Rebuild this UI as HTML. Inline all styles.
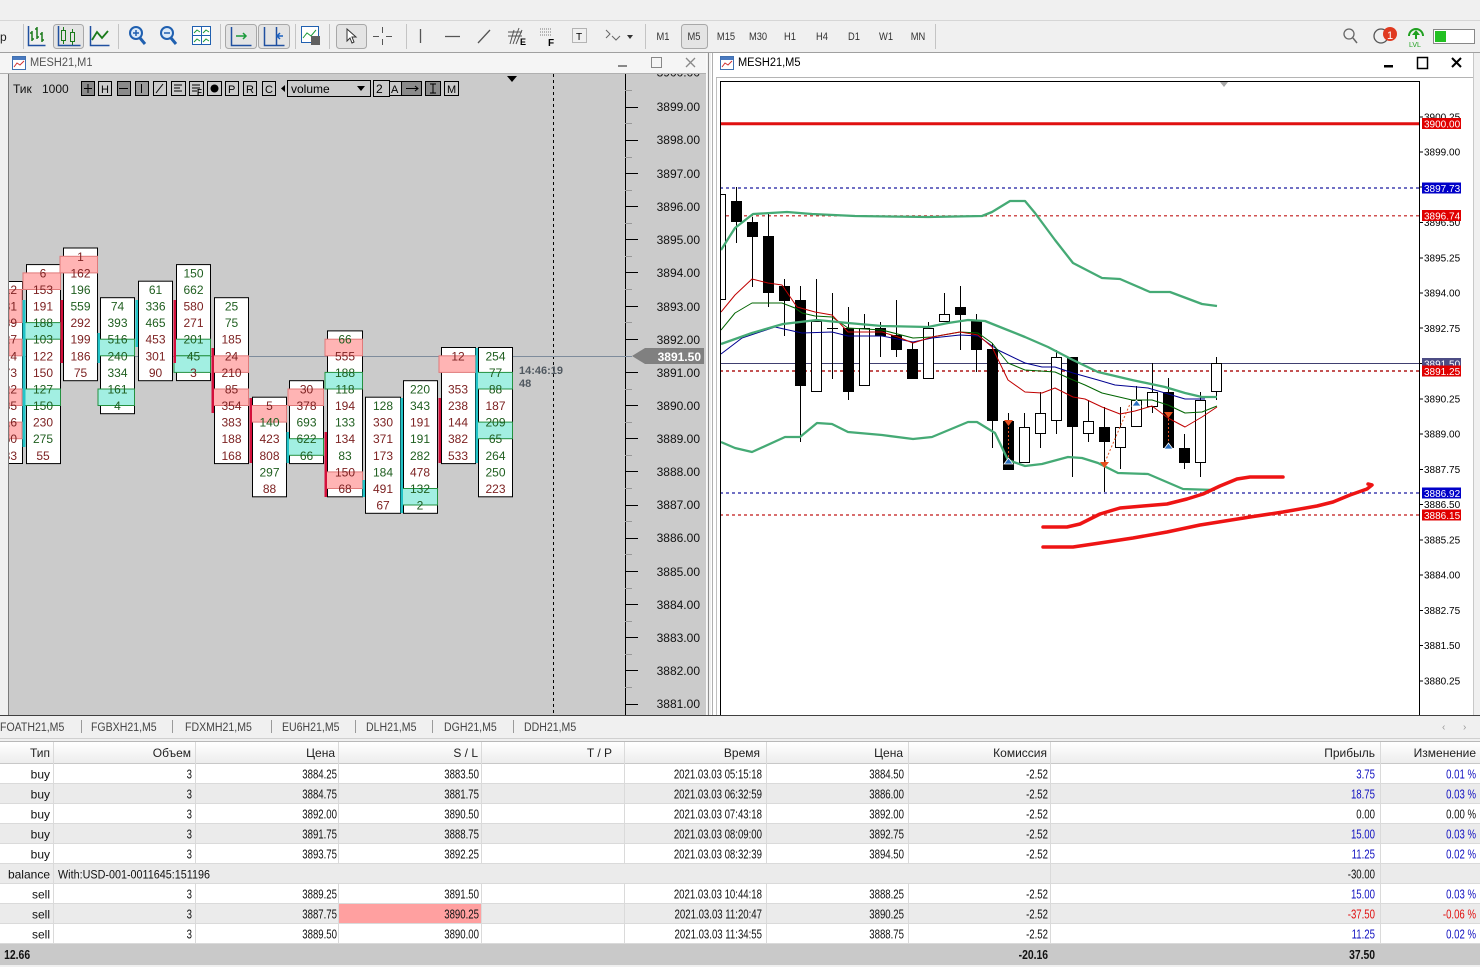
<!DOCTYPE html>
<html><head><meta charset="utf-8">
<style>
html,body{margin:0;padding:0;width:1480px;height:967px;overflow:hidden;background:#f0f0f0}
svg{display:block}
text{font-family:"Liberation Sans","DejaVu Sans","Noto Sans CJK SC",sans-serif;}
.n{transform-box:fill-box;transform:scaleX(.74);transform-origin:100% 50%;font-size:13px;text-anchor:end;fill:#111}
.w{font-size:12px;text-anchor:end;fill:#111}
.hd{font-size:12px;text-anchor:end;fill:#222}
.nb{transform-box:fill-box;transform:scaleX(.8);transform-origin:100% 50%;font-size:13px;text-anchor:end;fill:#111;font-weight:bold}
.tb{transform-box:fill-box;transform:scaleX(.88);transform-origin:0 50%;font-size:12px;fill:#444}
.tf{transform-box:fill-box;transform:scaleX(.85);transform-origin:50% 50%;font-size:11px;text-anchor:middle;fill:#333}
.fp{font-size:12px;text-anchor:middle}
.g{fill:#1f5e1f}.r{fill:#7d2222}
.ax{font-size:12px;text-anchor:end;fill:#111}
.rx{font-size:10px;fill:#000}
.lb{font-size:10px;fill:#fff}
.bx{fill:#fff;stroke:#000}
.pk{fill:#ffb4b4;stroke:#e07a7a}
.tl{fill:#a2efe2;stroke:#249040}
.rb{fill:#d4103c}.tq{fill:#22c4c8}
.bl{fill:#0000c8}.rd{fill:#e00000}
</style></head><body>
<svg width="1480" height="967" viewBox="0 0 1480 967" xmlns="http://www.w3.org/2000/svg">
<defs>
<clipPath id="lc"><rect x="9" y="74" width="616" height="641"/></clipPath>
<clipPath id="rc"><rect x="721" y="82" width="698" height="633"/></clipPath>
<clipPath id="lax"><rect x="626" y="74" width="80" height="641"/></clipPath>
<linearGradient id="hg" x1="0" y1="0" x2="0" y2="1"><stop offset="0" stop-color="#ffffff"/><stop offset="1" stop-color="#ececec"/></linearGradient>
</defs>
<rect width="1480" height="967" fill="#f0f0f0"/>
<line x1="0" y1="20.5" x2="1480" y2="20.5" stroke="#d6d6d6"/>
<line x1="0" y1="52.5" x2="1480" y2="52.5" stroke="#a0a0a0"/>

<!-- TOOLBAR -->
<text x="0" y="41" font-size="12" fill="#222">p</text>
<g stroke="#c4c4c4"><line x1="23.5" y1="24" x2="23.5" y2="49"/><line x1="118.5" y1="24" x2="118.5" y2="49"/><line x1="220.5" y1="24" x2="220.5" y2="49"/><line x1="295.5" y1="24" x2="295.5" y2="49"/><line x1="329.5" y1="24" x2="329.5" y2="49"/><line x1="406.5" y1="24" x2="406.5" y2="49"/><line x1="645.5" y1="24" x2="645.5" y2="49"/><line x1="935.5" y1="24" x2="935.5" y2="49"/></g>
<path d="M32 31v10M30 33h2M32 39h2M37 27v12M35 29h2M37 37h2M42 32v10M40 34h2M42 40h2" stroke="#1a7a1a" stroke-width="1.5" fill="none"/>
<path d="M28.5 26v19.5h17" stroke="#2050a0" fill="none" stroke-width="1.5"/>
<rect x="53.5" y="24.5" width="30" height="24" rx="3" fill="#e4e4e4" stroke="#a8a8a8"/>
<g stroke="#1a7a1a" fill="none"><rect x="61.5" y="30.5" width="4" height="10"/><path d="M63.5 27v3M63.5 41v3"/><rect x="70.5" y="32.5" width="4" height="9"/><path d="M72.5 29v3M72.5 42v3"/></g>
<path d="M58.5 26v19.5h22" stroke="#2050a0" fill="none" stroke-width="1.5"/>
<polyline points="92,40 97,32 102,38 108,31" stroke="#1a7a1a" stroke-width="1.8" fill="none"/>
<path d="M90.5 26v19.5h19" stroke="#2050a0" fill="none" stroke-width="1.5"/>
<circle cx="136" cy="33" r="6" fill="#dceaf8" stroke="#2060b0" stroke-width="2"/><path d="M140 38l5 6" stroke="#2060b0" stroke-width="3"/><path d="M133 33h6M136 30v6" stroke="#2060b0" stroke-width="1.5"/>
<circle cx="167" cy="33" r="6" fill="#dceaf8" stroke="#2060b0" stroke-width="2"/><path d="M171 38l5 6" stroke="#2060b0" stroke-width="3"/><path d="M164 33h6" stroke="#2060b0" stroke-width="1.5"/>
<rect x="192.5" y="26.5" width="18" height="18" fill="#fff" stroke="#2060b0"/><path d="M192.5 35.5h18M201.5 26.5v18" stroke="#2060b0"/><path d="M194 33l3-3 3 2M203 33l3-3 3 2M194 42l3-3 3 2M203 42l3-3 3 2" stroke="#1a9a3a" fill="none"/>
<rect x="225.5" y="24.5" width="31" height="24" rx="3" fill="#e4e4e4" stroke="#a8a8a8"/>
<path d="M231.5 27v18.5h20" stroke="#2050a0" fill="none" stroke-width="1.5"/><path d="M236 36h10M243 33l3 3-3 3" stroke="#1a9a3a" fill="none" stroke-width="1.5"/>
<rect x="258.5" y="24.5" width="31" height="24" rx="3" fill="#e4e4e4" stroke="#a8a8a8"/>
<path d="M264.5 27v18.5h20M276.5 27v18" stroke="#2050a0" fill="none" stroke-width="1.5"/><path d="M283 36h-6M280 33l-3 3 3 3" stroke="#1a60c0" fill="none" stroke-width="1.5"/>
<rect x="301.5" y="26.5" width="17" height="16" fill="#fff" stroke="#2060b0"/><path d="M303 38l4-5 4 3 5-6" stroke="#1a9a3a" fill="none"/><rect x="311" y="36" width="9" height="9" fill="#606060"/>
<rect x="336.5" y="24.5" width="30" height="24" rx="3" fill="#e4e4e4" stroke="#a8a8a8"/>
<path d="M347 29v12l3-3 2 5 2-1-2-5h4z" fill="#fff" stroke="#333"/>
<path d="M382.5 27v6M382.5 39v6M373 36.5h6M386 36.5h6" stroke="#555"/>
<path d="M420.5 29v14M445 36.5h15M478 43l12-13" stroke="#555" stroke-width="1.3"/>
<path d="M510 44l4-14M513 44l6-16M516 44l6-14M508 36h14M508 32h14" stroke="#555" fill="none"/><text x="520" y="45" font-size="9" font-weight="bold">E</text>
<path d="M540 29h12M540 32h12M540 35h12" stroke="#777" stroke-dasharray="1 1"/><text x="548" y="46" font-size="10" font-weight="bold">F</text>
<rect x="572.5" y="28.5" width="14" height="14" fill="none" stroke="#777" stroke-dasharray="1 1"/><text x="576" y="40" font-size="10">T</text>
<path d="M606 30l4 4-4 4M612 36l4 4 4-4" stroke="#666" fill="none"/><path d="M627 35h6l-3 4z" fill="#333"/>
<text class="tf" x="663" y="40">M1</text>
<rect x="681.5" y="24.5" width="26" height="24" rx="3" fill="#e4e4e4" stroke="#a8a8a8"/>
<text class="tf" x="694" y="40">M5</text><text class="tf" x="726" y="40">M15</text><text class="tf" x="758" y="40">M30</text><text class="tf" x="790" y="40">H1</text><text class="tf" x="822" y="40">H4</text><text class="tf" x="854" y="40">D1</text><text class="tf" x="886" y="40">W1</text><text class="tf" x="918" y="40">MN</text>
<circle cx="1349" cy="34" r="5" fill="none" stroke="#666" stroke-width="1.3"/><path d="M1353 38l4 5" stroke="#666" stroke-width="1.5"/>
<circle cx="1381" cy="36" r="7" fill="none" stroke="#555" stroke-width="1.3"/><circle cx="1390" cy="34" r="7" fill="#e03a20"/><text x="1387" y="39" font-size="11" fill="#fff">1</text>
<path d="M1409 36a7 7 0 0 1 14 0" stroke="#20a020" fill="none" stroke-width="2"/><path d="M1416 30l-4 5h3v4h2v-4h3z" fill="#20a020"/><text x="1409" y="47" font-size="7" fill="#20a020">LVL</text>
<rect x="1433.5" y="29.5" width="41" height="14" fill="#fff" stroke="#888"/><rect x="1435" y="31" width="11" height="11" fill="#22c022"/>

<!-- LEFT WINDOW -->
<rect x="0" y="53" width="706" height="20" fill="#f5f5f5"/>
<line x1="0" y1="73.5" x2="706" y2="73.5" stroke="#b0b0b0"/>
<rect x="12.5" y="56.5" width="13" height="13" fill="#fff" stroke="#4070b0"/><rect x="13" y="57" width="12" height="3" fill="#4a7ac0"/><path d="M14 67l3-4 3 2 4-4" stroke="#d03030" fill="none"/>
<text x="30" y="66" font-size="12" fill="#555" style="transform-box:fill-box;transform:scaleX(.92);transform-origin:0 50%">MESH21,M1</text>
<rect x="618" y="65" width="9" height="2" fill="#888"/>
<rect x="651.5" y="57.5" width="10" height="10" fill="none" stroke="#888"/>
<path d="M686 58l9 9M695 58l-9 9" stroke="#888" stroke-width="1.3"/>
<rect x="9" y="74" width="697" height="641" fill="#cbcbcb"/>
<line x1="8.5" y1="74" x2="8.5" y2="715" stroke="#7a7a7a"/>
<line x1="706.5" y1="53" x2="706.5" y2="715" stroke="#fafafa"/>
<line x1="708.5" y1="53" x2="708.5" y2="715" stroke="#909090"/>

<!-- footprint toolbar -->
<text x="13" y="93" font-size="12" fill="#111">Тик</text><text x="42" y="93" font-size="12" fill="#111">1000</text>
<g stroke="#000" fill="none">
<rect x="81.5" y="81.5" width="13" height="14" fill="#8a8a8a"/><rect x="98.5" y="81.5" width="13" height="14"/><rect x="117.5" y="81.5" width="13" height="14" fill="#8a8a8a"/><rect x="135.5" y="81.5" width="13" height="14" fill="#9a9a9a"/><rect x="153.5" y="81.5" width="13" height="14"/><rect x="171.5" y="81.5" width="14" height="14"/><rect x="189.5" y="81.5" width="14" height="14"/><rect x="207.5" y="81.5" width="14" height="14"/><rect x="225.5" y="81.5" width="13" height="14"/><rect x="243.5" y="81.5" width="13" height="14"/><rect x="262.5" y="81.5" width="13" height="14"/>
<rect x="287.5" y="80.5" width="83" height="16"/><rect x="373.5" y="80.5" width="16" height="16"/><rect x="389.5" y="81.5" width="12" height="14"/><rect x="401.5" y="81.5" width="20" height="14" fill="#8a8a8a"/><rect x="425.5" y="81.5" width="15" height="14" fill="#8a8a8a"/><rect x="444.5" y="81.5" width="14" height="14"/>
<path d="M88 84v9M84 88.5h8M119 88.5h9M141.5 84v9M156 93l7-9M174 85h8M174 88h6M174 91h8M192 85h8M192 88h8M192 91h5M406 88.5h12M415 86l3 2.5-3 2.5M430 84h6M433 84v9M430 93h6"/>
</g>
<text x="101" y="93" font-size="11">H</text><circle cx="214.5" cy="88.5" r="4" fill="#000"/>
<text x="228" y="93" font-size="11">P</text><text x="246" y="93" font-size="11">R</text><text x="265" y="93" font-size="11">C</text><text x="447" y="93" font-size="11">M</text>
<text x="197" y="95" font-size="8" font-weight="bold">F</text>
<path d="M285 85v7l-4-3.5z" fill="#000"/>
<text x="291" y="93" font-size="12" fill="#000">volume</text><path d="M357 86h8l-4 5z" fill="#000"/>
<text x="376" y="93" font-size="12">2</text><text x="391" y="93" font-size="11">A</text>

<!-- left axis & lines -->
<line x1="553.5" y1="74" x2="553.5" y2="715" stroke="#000" stroke-dasharray="3 3"/>
<path d="M507 76h10l-5 6z" fill="#000"/>
<line x1="625.5" y1="74" x2="625.5" y2="715" stroke="#000"/>
<g stroke="#000"><path d="M625 107.5h13M625 140.5h13M625 173.5h13M625 206.5h13M625 239.5h13M625 272.5h13M625 306.5h13M625 339.5h13M625 372.5h13M625 405.5h13M625 438.5h13M625 471.5h13M625 505.5h13M625 538.5h13M625 571.5h13M625 604.5h13M625 637.5h13M625 670.5h13M625 704.5h13"/></g>
<g stroke="#999"><path d="M625 90.5h7M625 123.5h7M625 157.5h7M625 190.5h7M625 223.5h7M625 256.5h7M625 289.5h7M625 322.5h7M625 389.5h7M625 422.5h7M625 455.5h7M625 488.5h7M625 521.5h7M625 554.5h7M625 588.5h7M625 621.5h7M625 654.5h7M625 687.5h7"/></g>
<g class="ax" clip-path="url(#lax)">
<text x="700" y="76.5">3900.00</text><text x="700" y="111">3899.00</text><text x="700" y="144">3898.00</text><text x="700" y="178">3897.00</text><text x="700" y="211">3896.00</text><text x="700" y="244">3895.00</text><text x="700" y="277">3894.00</text><text x="700" y="311">3893.00</text><text x="700" y="344">3892.00</text><text x="700" y="377">3891.00</text><text x="700" y="410">3890.00</text><text x="700" y="443">3889.00</text><text x="700" y="476">3888.00</text><text x="700" y="509">3887.00</text><text x="700" y="542">3886.00</text><text x="700" y="576">3885.00</text><text x="700" y="609">3884.00</text><text x="700" y="642">3883.00</text><text x="700" y="675">3882.00</text><text x="700" y="708">3881.00</text>
</g>
<line x1="9" y1="356.5" x2="632" y2="356.5" stroke="#7e8c9c"/>
<path d="M632 356l13-8h59v16h-59z" fill="#808080"/>
<text x="701" y="361" font-size="12" font-weight="bold" fill="#fff" text-anchor="end">3891.50</text>
<text x="519" y="374" font-size="11" font-weight="bold" fill="#505860">14:46:19</text>
<text x="519" y="387" font-size="11" font-weight="bold" fill="#505860">48</text>

<!-- FOOTPRINT -->
<g clip-path="url(#lc)">
<rect class="bx" x="0.5" y="281.5" width="22" height="182"/>
<rect class="pk" x="9" y="289.5" width="13" height="33"/><rect class="pk" x="9" y="339.2" width="13" height="16.6"/><rect class="pk" x="9" y="389" width="13" height="16.5"/><rect class="pk" x="9" y="422.1" width="13" height="16.6"/>
<g class="fp" style="text-anchor:end"><text class="r" x="17" y="294">12</text><text class="r" x="17" y="310.5">31</text><text class="r" x="17" y="327.1">89</text><text class="r" x="17" y="343.7">27</text><text class="r" x="17" y="360.3">14</text><text class="r" x="17" y="376.9">73</text><text class="r" x="17" y="393.5">22</text><text class="r" x="17" y="410">35</text><text class="r" x="17" y="426.6">16</text><text class="r" x="17" y="443.2">50</text><text class="r" x="17" y="459.8">83</text></g>
</g>
<!-- B -->
<rect class="bx" x="26.5" y="264.6" width="34" height="199"/>
<rect class="pk" x="23" y="272.9" width="37.5" height="16.6"/><rect class="tl" x="23" y="322.6" width="37.5" height="16.6"/><rect class="tl" x="23" y="389" width="37.5" height="16.5"/>
<rect class="tq" x="22.5" y="300" width="3" height="147"/>
<g class="fp"><text class="r" x="43" y="277.4">6</text><text class="r" x="43" y="294">153</text><text class="r" x="43" y="310.5">191</text><text class="g" x="43" y="327.1">188</text><text class="g" x="43" y="343.7">103</text><text class="r" x="43" y="360.3">122</text><text class="r" x="43" y="376.9">150</text><text class="g" x="43" y="393.5">127</text><text class="g" x="43" y="410">150</text><text class="r" x="43" y="426.6">230</text><text class="g" x="43" y="443.2">275</text><text class="r" x="43" y="459.8">55</text></g>
<!-- C -->
<rect class="bx" x="63.5" y="248" width="34" height="132.7"/>
<rect class="pk" x="60" y="256.3" width="37.5" height="16.6"/>
<rect class="rb" x="60.5" y="300" width="2.5" height="63"/>
<g class="fp"><text class="r" x="80.5" y="260.8">1</text><text class="r" x="80.5" y="277.4">162</text><text class="g" x="80.5" y="294">196</text><text class="g" x="80.5" y="310.5">559</text><text class="r" x="80.5" y="327.1">292</text><text class="r" x="80.5" y="343.7">199</text><text class="r" x="80.5" y="360.3">186</text><text class="r" x="80.5" y="376.9">75</text></g>
<!-- D -->
<rect class="bx" x="100.5" y="297.7" width="34" height="116"/>
<rect class="tl" x="98" y="339.2" width="36.5" height="16.6"/><rect class="tl" x="98" y="389" width="36.5" height="16.5"/>
<rect class="tq" x="97.5" y="333" width="2.5" height="30"/>
<g class="fp g"><text x="117.5" y="310.5">74</text><text x="117.5" y="327.1">393</text><text x="117.5" y="343.7">516</text><text x="117.5" y="360.3">240</text><text x="117.5" y="376.9">334</text><text x="117.5" y="393.5">161</text><text x="117.5" y="410">4</text></g>
<!-- E -->
<rect class="bx" x="138.5" y="281.2" width="34" height="99.5"/>
<rect class="tq" x="135.5" y="300" width="2.5" height="47"/>
<g class="fp"><text class="g" x="155.5" y="294">61</text><text class="g" x="155.5" y="310.5">336</text><text class="g" x="155.5" y="327.1">465</text><text class="r" x="155.5" y="343.7">453</text><text class="r" x="155.5" y="360.3">301</text><text class="r" x="155.5" y="376.9">90</text></g>
<!-- F -->
<rect class="bx" x="176.5" y="264.6" width="34" height="116"/>
<rect class="tl" x="174" y="339.2" width="36.5" height="16.6"/><rect class="tl" x="174" y="355.8" width="36.5" height="16.6"/>
<rect class="rb" x="173.5" y="300" width="2.5" height="63"/>
<g class="fp"><text class="g" x="193.5" y="277.4">150</text><text class="g" x="193.5" y="294">662</text><text class="r" x="193.5" y="310.5">580</text><text class="r" x="193.5" y="327.1">271</text><text class="g" x="193.5" y="343.7">201</text><text class="g" x="193.5" y="360.3">45</text><text class="r" x="193.5" y="376.9">3</text></g>
<!-- G -->
<rect class="bx" x="214.5" y="297.7" width="34" height="165.9"/>
<rect class="pk" x="212" y="355.8" width="36.5" height="16.6"/><rect class="pk" x="212" y="389" width="36.5" height="16.5"/>
<rect class="rb" x="211.5" y="348" width="2.5" height="65"/>
<g class="fp"><text class="g" x="231.5" y="310.5">25</text><text class="g" x="231.5" y="327.1">75</text><text class="r" x="231.5" y="343.7">185</text><text class="r" x="231.5" y="360.3">24</text><text class="r" x="231.5" y="376.9">210</text><text class="r" x="231.5" y="393.5">85</text><text class="r" x="231.5" y="410">354</text><text class="r" x="231.5" y="426.6">383</text><text class="r" x="231.5" y="443.2">188</text><text class="r" x="231.5" y="459.8">168</text></g>
<!-- H -->
<rect class="bx" x="252.5" y="397.2" width="34" height="99.6"/>
<rect class="pk" x="250" y="405.5" width="36.5" height="16.6"/>
<rect class="rb" x="249.5" y="398" width="2.5" height="65"/>
<g class="fp"><text class="r" x="269.5" y="410">5</text><text class="g" x="269.5" y="426.6">140</text><text class="r" x="269.5" y="443.2">423</text><text class="r" x="269.5" y="459.8">808</text><text class="g" x="269.5" y="476.4">297</text><text class="r" x="269.5" y="493">88</text></g>
<!-- I -->
<rect class="bx" x="289.5" y="380.7" width="34" height="82.9"/>
<rect class="pk" x="288" y="389" width="35.5" height="16.5"/><rect class="tl" x="288" y="438.7" width="35.5" height="16.6"/>
<rect class="tq" x="286.5" y="432" width="2.5" height="31"/>
<g class="fp"><text class="r" x="306.5" y="393.5">30</text><text class="r" x="306.5" y="410">378</text><text class="g" x="306.5" y="426.6">693</text><text class="g" x="306.5" y="443.2">622</text><text class="g" x="306.5" y="459.8">66</text></g>
<!-- J -->
<rect class="bx" x="327.5" y="330.9" width="35" height="165.9"/>
<rect class="pk" x="325" y="339.2" width="37.5" height="16.6"/><rect class="tl" x="325" y="372.4" width="37.5" height="16.6"/><rect class="pk" x="325" y="471.9" width="37.5" height="16.6"/>
<rect class="rb" x="324.5" y="432" width="2.5" height="65"/>
<g class="fp"><text class="g" x="345" y="343.7">66</text><text class="r" x="345" y="360.3">555</text><text class="g" x="345" y="376.9">188</text><text class="g" x="345" y="393.5">118</text><text class="r" x="345" y="410">194</text><text class="g" x="345" y="426.6">133</text><text class="r" x="345" y="443.2">134</text><text class="g" x="345" y="459.8">83</text><text class="r" x="345" y="476.4">150</text><text class="r" x="345" y="493">68</text></g>
<!-- K -->
<rect class="bx" x="365.5" y="397.2" width="35" height="116.1"/>
<rect class="tq" x="362.5" y="480" width="2.5" height="17"/>
<g class="fp"><text class="g" x="383" y="410">128</text><text class="r" x="383" y="426.6">330</text><text class="r" x="383" y="443.2">371</text><text class="r" x="383" y="459.8">173</text><text class="g" x="383" y="476.4">184</text><text class="r" x="383" y="493">491</text><text class="r" x="383" y="509.5">67</text></g>
<!-- L -->
<rect class="bx" x="403.5" y="380.7" width="34" height="132.6"/>
<rect class="tl" x="401" y="488.5" width="36.5" height="16.5"/>
<rect class="tq" x="400.5" y="398" width="2.5" height="115"/>
<g class="fp"><text class="g" x="420" y="393.5">220</text><text class="g" x="420" y="410">343</text><text class="r" x="420" y="426.6">191</text><text class="g" x="420" y="443.2">191</text><text class="g" x="420" y="459.8">282</text><text class="r" x="420" y="476.4">478</text><text class="g" x="420" y="493">132</text><text class="g" x="420" y="509.5">2</text></g>
<!-- M -->
<rect class="bx" x="441.5" y="347.5" width="34" height="116.1"/>
<rect class="pk" x="439" y="355.8" width="36.5" height="16.6"/>
<rect class="rb" x="438.5" y="398" width="2.5" height="65"/>
<g class="fp r"><text x="458" y="360.3">12</text><text x="458" y="393.5">353</text><text x="458" y="410">238</text><text x="458" y="426.6">144</text><text x="458" y="443.2">382</text><text x="458" y="459.8">533</text></g>
<!-- N -->
<rect class="bx" x="478.5" y="347.5" width="34" height="149.3"/>
<rect class="tl" x="476" y="372.4" width="36.5" height="16.6"/><rect class="tl" x="476" y="422.1" width="36.5" height="16.6"/>
<rect class="tq" x="475.5" y="348" width="2.5" height="115"/>
<g class="fp"><text class="g" x="495.5" y="360.3">254</text><text class="g" x="495.5" y="376.9">77</text><text class="g" x="495.5" y="393.5">88</text><text class="r" x="495.5" y="410">187</text><text class="g" x="495.5" y="426.6">209</text><text class="g" x="495.5" y="443.2">65</text><text class="g" x="495.5" y="459.8">264</text><text class="g" x="495.5" y="476.4">250</text><text class="r" x="495.5" y="493">223</text></g>

<!-- RIGHT WINDOW -->
<rect x="711" y="53" width="769" height="662" fill="#fff"/>
<line x1="712.5" y1="53" x2="712.5" y2="715" stroke="#b0b0b0"/>
<line x1="716.5" y1="78" x2="716.5" y2="715" stroke="#c0c0c0"/>
<line x1="716" y1="77.5" x2="1474" y2="77.5" stroke="#b4b4b4"/>
<rect x="1474" y="53" width="6" height="662" fill="#f0f0f0"/>
<line x1="1473.5" y1="53" x2="1473.5" y2="715" stroke="#c8c8c8"/>
<rect x="720.5" y="56.5" width="13" height="13" fill="#fff" stroke="#4070b0"/><rect x="721" y="57" width="12" height="3" fill="#4a7ac0"/><path d="M722 67l3-4 3 2 4-4" stroke="#d03030" fill="none"/>
<text x="738" y="66" font-size="12" fill="#000" style="transform-box:fill-box;transform:scaleX(.92);transform-origin:0 50%">MESH21,M5</text>
<rect x="1384" y="65" width="9" height="2.5" fill="#000"/>
<rect x="1417.5" y="57.5" width="10" height="11" fill="none" stroke="#000" stroke-width="1.5"/>
<path d="M1452 58l9 9M1461 58l-9 9" stroke="#000" stroke-width="2"/>
<rect x="720.5" y="81.5" width="699" height="640" fill="#fff" stroke="#000"/>
<path d="M1220 82h8l-4 5z" fill="#a8a8a8"/>

<g clip-path="url(#rc)">
<line x1="720" y1="123.8" x2="1420" y2="123.8" stroke="#e01010" stroke-width="3"/>
<g stroke-dasharray="3 3" stroke-width="1.2">
<line x1="720" y1="188" x2="1420" y2="188" stroke="#1a1aa0"/>
<line x1="720" y1="215.8" x2="1420" y2="215.8" stroke="#c01818"/>
<line x1="720" y1="371" x2="1420" y2="371" stroke="#b01818" stroke-width="1.6"/>
<line x1="720" y1="493" x2="1420" y2="493" stroke="#1a1aa0"/>
<line x1="720" y1="515" x2="1420" y2="515" stroke="#c01818"/>
</g>
<line x1="720" y1="363.5" x2="1420" y2="363.5" stroke="#404070"/>
<!-- wicks -->
<path stroke="#000" d="M736.5 187V243M752.5 217V287M768.5 213V307M784.5 279V336M800.5 286V442M816.5 279V392M832.5 293V379M848.5 307V400M864.5 314V386M880.5 322V357M896.5 300V357M912.5 343V379M928.5 322V379M944.5 293V322M960.5 286V350M976.5 314V372M992.5 343V448M1008.5 413V470M1024.5 413V463M1040.5 392V448M1056.5 350V434M1072.5 357V477M1088.5 400V442M1104.5 407V492M1120.5 407V469M1136.5 386V427M1152.5 363V413M1168.5 378V448M1184.5 434V469M1200.5 392V477M1216.5 357V400"/>
<!-- black bodies -->
<g fill="#000">
<rect x="731" y="201" width="11" height="21"/><rect x="747" y="222" width="11" height="15"/><rect x="763" y="236" width="11" height="57"/><rect x="779" y="286" width="11" height="15"/><rect x="795" y="300" width="11" height="86"/><rect x="843" y="328" width="11" height="64"/><rect x="875" y="328" width="11" height="8"/><rect x="891" y="335" width="11" height="15"/><rect x="907" y="349" width="11" height="30"/><rect x="955" y="307" width="11" height="8"/><rect x="971" y="321" width="11" height="29"/><rect x="987" y="349" width="11" height="72"/><rect x="1003" y="421" width="11" height="49"/><rect x="1067" y="357" width="11" height="70"/><rect x="1099" y="427" width="11" height="15"/><rect x="1163" y="392" width="11" height="56"/><rect x="1179" y="448" width="11" height="15"/>
<rect x="827" y="328" width="11" height="1"/>
</g>
<!-- white bodies -->
<g fill="#fff" stroke="#000">
<rect x="720.5" y="194.5" width="5" height="105"/><rect x="811.5" y="321.5" width="10" height="70"/><rect x="859.5" y="328.5" width="10" height="57"/><rect x="923.5" y="328.5" width="10" height="50"/><rect x="939.5" y="314.5" width="10" height="7"/><rect x="1019.5" y="427.5" width="10" height="35"/><rect x="1035.5" y="413.5" width="10" height="20"/><rect x="1051.5" y="357.5" width="10" height="63"/><rect x="1083.5" y="421.5" width="10" height="12"/><rect x="1115.5" y="427.5" width="10" height="20"/><rect x="1131.5" y="400.5" width="10" height="26"/><rect x="1147.5" y="392.5" width="10" height="14"/><rect x="1195.5" y="400.5" width="10" height="62"/><rect x="1211.5" y="363.5" width="10" height="28"/>
</g>
<!-- indicators -->
<g fill="none" stroke-linejoin="round">
<polyline stroke="#000090" points="721,354 742,338 775,327 802,333 832,332 848,336 882,336 913,342 932,338 960,335 978,336 998,350 1025,363 1042,367 1055,367 1073,373 1098,380 1115,385 1148,388 1165,393 1185,399 1205,399"/>
<polyline stroke="#006400" points="721,330 735,313 752,303 782,303 795,308 802,313 815,316 832,317 848,328 865,329 882,330 913,338 932,337 960,332 978,333 992,343 1008,363 1025,370 1055,372 1073,380 1085,385 1102,393 1132,400 1152,400 1168,405 1185,413 1202,412 1217,406"/>
<polyline stroke="#c00000" points="721,312 735,295 752,279 768,283 782,285 797,307 815,312 832,315 848,332 882,332 898,337 913,343 932,337 960,332 978,335 992,347 1008,380 1025,392 1042,393 1055,388 1073,397 1085,399 1102,407 1120,414 1135,411 1152,406 1168,418 1185,427 1202,417 1217,407"/>
<g stroke="#45aa75" stroke-width="2.3">
<polyline points="721,250 735,228 753,214 787,212 812,214 855,216 928,217 982,216 992,212 1010,201 1025,201 1035,213 1055,240 1073,263 1102,278 1120,279 1150,292 1170,292 1202,304 1217,306"/>
<polyline points="721,344 752,333 783,324 817,320 848,323 882,326 928,327 948,323 968,320 985,321 1005,329 1025,337 1048,347 1073,360 1098,372 1132,380 1165,387 1185,393 1202,397 1217,397"/>
<polyline points="721,442 735,448 752,452 785,437 800,437 817,423 832,424 848,432 882,435 913,439 932,437 968,422 977,422 995,433 1008,460 1025,466 1042,464 1068,457 1082,458 1098,463 1118,473 1148,474 1162,480 1183,489 1215,490"/>
</g>
<path d="M1008.5 427V457M1168.5 419V443M1105 462L1130 404" stroke="#e05020" stroke-dasharray="2 2"/>
<g stroke="#ee1414" stroke-width="3.5" stroke-linecap="round">
<path d="M1043 527L1067 527 1080 524 1100 514 1120 508 1143 506 1167 504 1187 499 1203 494 1220 486 1237 479 1250 477 1283 477"/>
<path d="M1043 547L1073 547 1100 543 1133 538 1167 532 1200 525 1250 517 1283 512 1317 506 1333 502 1350 495 1367 489 1372 485 1368 484"/>
</g>
</g>
<g>
<path d="M1004 420h9l-4.5 6z" fill="#e85020"/><path d="M1164 412h9l-4.5 6z" fill="#e85020"/><path d="M1100 462h9l-4.5 6z" fill="#e85020"/>
<path d="M1004 464h9l-4.5-6z" fill="#2a70c0" stroke="#fff" stroke-width=".8"/><path d="M1164 449h9l-4.5-6z" fill="#2a70c0" stroke="#fff" stroke-width=".8"/><path d="M1132 406h9l-4.5-6z" fill="#2a70c0" stroke="#fff" stroke-width=".8"/>
</g>
</g>
<!-- right axis -->
<line x1="1419.5" y1="82" x2="1419.5" y2="715" stroke="#000"/>
<path stroke="#000" d="M1419 117h4M1419 152h4M1419 187h4M1419 222.5h4M1419 258h4M1419 293h4M1419 328h4M1419 363.5h4M1419 399h4M1419 434h4M1419 469.5h4M1419 504.5h4M1419 540h4M1419 575h4M1419 610.5h4M1419 645.5h4M1419 681h4"/>
<g class="rx"><text x="1424" y="120.5">3900.25</text><text x="1424" y="155.5">3899.00</text><text x="1424" y="191">3897.75</text><text x="1424" y="226">3896.50</text><text x="1424" y="261.5">3895.25</text><text x="1424" y="296.5">3894.00</text><text x="1424" y="332">3892.75</text><text x="1424" y="367">3891.50</text><text x="1424" y="402.5">3890.25</text><text x="1424" y="437.5">3889.00</text><text x="1424" y="473">3887.75</text><text x="1424" y="508">3886.50</text><text x="1424" y="543.5">3885.25</text><text x="1424" y="578.5">3884.00</text><text x="1424" y="614">3882.75</text><text x="1424" y="649">3881.50</text><text x="1424" y="684.5">3880.25</text></g>
<rect class="rd" x="1422" y="118" width="39" height="11"/><text class="lb" x="1424" y="127.5">3900.00</text>
<rect class="bl" x="1422" y="182.5" width="39" height="11"/><text class="lb" x="1424" y="192">3897.73</text>
<rect class="rd" x="1422" y="210" width="39" height="11"/><text class="lb" x="1424" y="219.5">3896.74</text>
<rect fill="#4c4c84" x="1422" y="358" width="39" height="11"/><text class="lb" x="1424" y="367.5">3891.50</text>
<rect class="rd" x="1422" y="365.5" width="39" height="11"/><text class="lb" x="1424" y="375">3891.25</text>
<rect class="bl" x="1422" y="487.5" width="39" height="11"/><text class="lb" x="1424" y="497">3886.92</text>
<rect class="rd" x="1422" y="509.5" width="39" height="11"/><text class="lb" x="1424" y="519">3886.15</text>

<!-- TAB BAR -->
<rect x="0" y="715" width="1480" height="27" fill="#f0f0f0"/>
<line x1="0" y1="715.5" x2="1480" y2="715.5" stroke="#404040"/>
<line x1="0" y1="738.5" x2="1480" y2="738.5" stroke="#d0d0d0"/>
<line x1="0" y1="741.5" x2="1480" y2="741.5" stroke="#b8b8b8"/>
<text class="tb" x="0" y="731">FOATH21,M5</text><text class="tb" x="91" y="731">FGBXH21,M5</text><text class="tb" x="185" y="731">FDXMH21,M5</text><text class="tb" x="282" y="731">EU6H21,M5</text><text class="tb" x="366" y="731">DLH21,M5</text><text class="tb" x="444" y="731">DGH21,M5</text><text class="tb" x="524" y="731">DDH21,M5</text>
<path stroke="#9a9a9a" d="M81.5 720v13M172.5 720v13M271.5 720v13M355.5 720v13M432.5 720v13M513.5 720v13"/>
<text x="1442" y="730" font-size="10" fill="#999">‹</text><text x="1463" y="730" font-size="10" fill="#999">›</text>

<!-- TABLE -->
<rect x="0" y="742" width="1480" height="22" fill="url(#hg)"/>
<line x1="0" y1="763.5" x2="1480" y2="763.5" stroke="#c8c8c8"/>
<rect x="0" y="764" width="1480" height="180" fill="#fff"/>
<g fill="#ebebeb"><rect x="0" y="784" width="1480" height="20"/><rect x="0" y="824" width="1480" height="20"/><rect x="0" y="864" width="1480" height="20"/><rect x="0" y="904" width="1480" height="20"/></g>
<rect x="339" y="904" width="142" height="20" fill="#ffa0a0"/>
<g stroke="#dadada"><path d="M0 783.5h1480M0 803.5h1480M0 823.5h1480M0 843.5h1480M0 863.5h1480M0 883.5h1480M0 903.5h1480M0 923.5h1480M0 943.5h1480"/>
<path d="M53.5 742v122M195.5 742v122M338.5 742v122M481.5 742v122M624.5 742v122M766.5 742v122M908.5 742v122M1050.5 742v202M1380.5 742v202M53.5 864v80M195.5 884v60M338.5 884v60M481.5 884v60M624.5 884v60M766.5 884v60M908.5 884v60"/></g>
<g class="hd"><text x="50" y="757">Тип</text><text x="191" y="757">Объем</text><text x="335" y="757">Цена</text><text x="478" y="757">S / L</text><text x="612" y="757">T / P</text><text x="760" y="757">Время</text><text x="903" y="757">Цена</text><text x="1047" y="757">Комиссия</text><text x="1375" y="757">Прибыль</text><text x="1476" y="757">Изменение</text></g>

<text class="w" x="50" y="778.5">buy</text><text class="n" x="192" y="778.5">3</text><text class="n" x="337" y="778.5">3884.25</text><text class="n" x="479" y="778.5">3883.50</text><text class="n" x="762" y="778.5">2021.03.03 05:15:18</text><text class="n" x="904" y="778.5">3884.50</text><text class="n" x="1048" y="778.5">-2.52</text><text class="n" x="1375" y="778.5" style="fill:#1010c0">3.75</text><text class="n" x="1476" y="778.5" style="fill:#1010c0">0.01 %</text>
<text class="w" x="50" y="798.5">buy</text><text class="n" x="192" y="798.5">3</text><text class="n" x="337" y="798.5">3884.75</text><text class="n" x="479" y="798.5">3881.75</text><text class="n" x="762" y="798.5">2021.03.03 06:32:59</text><text class="n" x="904" y="798.5">3886.00</text><text class="n" x="1048" y="798.5">-2.52</text><text class="n" x="1375" y="798.5" style="fill:#1010c0">18.75</text><text class="n" x="1476" y="798.5" style="fill:#1010c0">0.03 %</text>
<text class="w" x="50" y="818.5">buy</text><text class="n" x="192" y="818.5">3</text><text class="n" x="337" y="818.5">3892.00</text><text class="n" x="479" y="818.5">3890.50</text><text class="n" x="762" y="818.5">2021.03.03 07:43:18</text><text class="n" x="904" y="818.5">3892.00</text><text class="n" x="1048" y="818.5">-2.52</text><text class="n" x="1375" y="818.5">0.00</text><text class="n" x="1476" y="818.5">0.00 %</text>
<text class="w" x="50" y="838.5">buy</text><text class="n" x="192" y="838.5">3</text><text class="n" x="337" y="838.5">3891.75</text><text class="n" x="479" y="838.5">3888.75</text><text class="n" x="762" y="838.5">2021.03.03 08:09:00</text><text class="n" x="904" y="838.5">3892.75</text><text class="n" x="1048" y="838.5">-2.52</text><text class="n" x="1375" y="838.5" style="fill:#1010c0">15.00</text><text class="n" x="1476" y="838.5" style="fill:#1010c0">0.03 %</text>
<text class="w" x="50" y="858.5">buy</text><text class="n" x="192" y="858.5">3</text><text class="n" x="337" y="858.5">3893.75</text><text class="n" x="479" y="858.5">3892.25</text><text class="n" x="762" y="858.5">2021.03.03 08:32:39</text><text class="n" x="904" y="858.5">3894.50</text><text class="n" x="1048" y="858.5">-2.52</text><text class="n" x="1375" y="858.5" style="fill:#1010c0">11.25</text><text class="n" x="1476" y="858.5" style="fill:#1010c0">0.02 %</text>
<text class="w" x="50" y="878.5">balance</text><text x="58" y="878.5" font-size="12" fill="#111" style="transform-box:fill-box;transform:scaleX(.9);transform-origin:0 50%">With:USD-001-0011645:151196</text><text class="n" x="1375" y="878.5">-30.00</text>
<text class="w" x="50" y="898.5">sell</text><text class="n" x="192" y="898.5">3</text><text class="n" x="337" y="898.5">3889.25</text><text class="n" x="479" y="898.5">3891.50</text><text class="n" x="762" y="898.5">2021.03.03 10:44:18</text><text class="n" x="904" y="898.5">3888.25</text><text class="n" x="1048" y="898.5">-2.52</text><text class="n" x="1375" y="898.5" style="fill:#1010c0">15.00</text><text class="n" x="1476" y="898.5" style="fill:#1010c0">0.03 %</text>
<text class="w" x="50" y="918.5">sell</text><text class="n" x="192" y="918.5">3</text><text class="n" x="337" y="918.5">3887.75</text><text class="n" x="479" y="918.5">3890.25</text><text class="n" x="762" y="918.5">2021.03.03 11:20:47</text><text class="n" x="904" y="918.5">3890.25</text><text class="n" x="1048" y="918.5">-2.52</text><text class="n" x="1375" y="918.5" style="fill:#e01010">-37.50</text><text class="n" x="1476" y="918.5" style="fill:#e01010">-0.06 %</text>
<text class="w" x="50" y="938.5">sell</text><text class="n" x="192" y="938.5">3</text><text class="n" x="337" y="938.5">3889.50</text><text class="n" x="479" y="938.5">3890.00</text><text class="n" x="762" y="938.5">2021.03.03 11:34:55</text><text class="n" x="904" y="938.5">3888.75</text><text class="n" x="1048" y="938.5">-2.52</text><text class="n" x="1375" y="938.5" style="fill:#1010c0">11.25</text><text class="n" x="1476" y="938.5" style="fill:#1010c0">0.02 %</text>
<rect x="0" y="944" width="1480" height="21" fill="#c9c9c9"/>
<text class="nb" x="30" y="959">12.66</text><text class="nb" x="1048" y="959">-20.16</text><text class="nb" x="1375" y="959">37.50</text>
</svg>
</body></html>
